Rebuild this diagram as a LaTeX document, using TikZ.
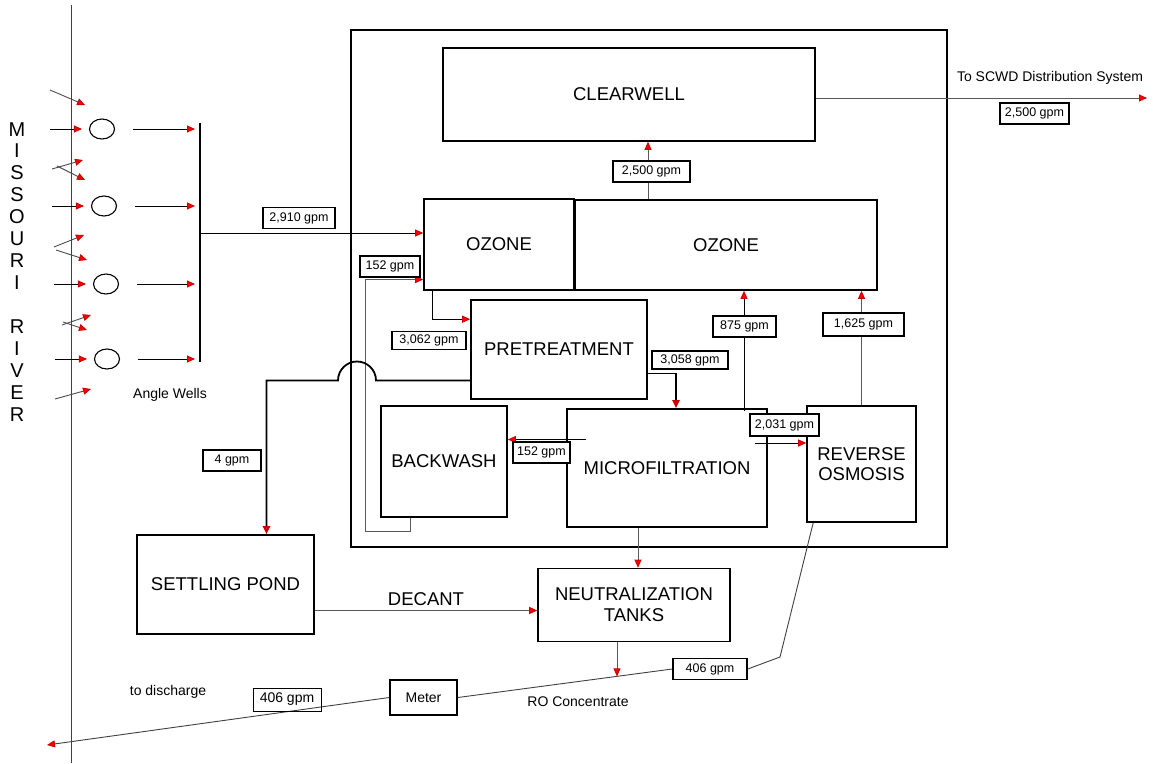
\documentclass[tikz,border=0pt]{standalone}
\usepackage{fontspec}
\setmainfont{Liberation Sans}
\usetikzlibrary{arrows.meta,shapes.geometric,calc}

\tikzset{
  unit/.style={draw,line width=1.6,inner sep=0pt,align=center,font=\fontsize{18.5}{21}\selectfont},
  gpm/.style={draw,line width=1.5,fill=white,inner sep=0pt,minimum height=21,font=\fontsize{12.5}{14}\selectfont},
  well/.style={draw,ellipse,line width=1.1,minimum width=25,minimum height=20,inner sep=0pt},
  flow/.style={line width=0.9,-{Triangle[length=8pt,width=7pt,color=red!80!black,fill=red]}},
  faint/.style={draw=black!65},
  note/.style={font=\fontsize{14}{16}\selectfont}
}

\begin{document}
\begin{tikzpicture}[x=1pt,y=-1pt]
\useasboundingbox (0,0) rectangle (1153,763);
\draw[black!75,line width=1] (71,5) -- (71,763);
\foreach \ch/\yy [count=\k] in {M/130,I/151,S/173,S/195,O/217,U/239,R/261,I/283,R/327,I/349,V/371,E/393,R/415}
  \node[font=\fontsize{20}{20}\selectfont] (river\k) at (17,\yy) {\ch};

\coordinate (bar) at (200,240);
\draw[line width=1.8] (200,123) -- (200,362);
\foreach \i/\x/\y in {1/102/129,2/104/206,3/106/284,4/107/359}{
  \node[well] (w\i) at (\x,\y) {};
  \draw[flow] (\x-52,\y) -- ([xshift=-7]w\i.west);
  \draw[flow] ([xshift=18]w\i.east) -- ([xshift=-5]w\i.east -| bar);
}
\foreach \xa/\ya/\xb/\yb in {50/90/85/105,52/169/83/160,57/166/85/180,54/247/84/235,56/250/87/260,62/325/91/315,63/322/87/330,55/399/91/389}
  \draw[flow,draw=black!70] (\xa,\ya) -- (\xb,\yb);
\node[note] (angle) at (170,395) {Angle Wells};

\node[draw,line width=1.6,minimum width=596,minimum height=517,inner sep=0pt] (plant) at (649,288.5) {};
\node[unit,minimum width=372,minimum height=93] (clearwell) at (629,94.5) {CLEARWELL};
\node[unit,minimum width=150,minimum height=91] (ozoneA) at (499,244.5) {OZONE};
\node[unit,minimum width=302,minimum height=90] (ozoneB) at (726,245) {OZONE};
\node[unit,minimum width=176,minimum height=99] (pretreat) at (559,349.5) {PRETREATMENT};
\node[unit,minimum width=126,minimum height=111] (backwash) at (444,461.5) {BACKWASH};
\node[unit,minimum width=200,minimum height=118] (microfilt) at (667,468) {MICROFILTRATION};
\node[unit,minimum width=109,minimum height=116,font=\fontsize{18.5}{20}\selectfont] (ro) at (861.5,464) {REVERSE\\OSMOSIS};
\node[unit,minimum width=177,minimum height=99] (pond) at (225.5,584.5) {SETTLING POND};
\node[unit,minimum width=192,minimum height=73] (neut) at (634,605) {NEUTRALIZATION\\TANKS};
\node[unit,minimum width=67,minimum height=35,font=\fontsize{14}{16}\selectfont] (meter) at (423.5,697.5) {Meter};
\node[gpm,minimum width=74] (g406a) at (710,669) {406 gpm};

\coordinate (tap) at (200,233);
\draw[flow] (tap) -- (tap -| ozoneA.west);
\coordinate (scwd) at (1147,98);
\draw[flow,faint] (clearwell.east |- scwd) -- (scwd);
\node[note] (scwdtext) at (1050,78) {To SCWD Distribution System};
\draw[flow,faint] ([xshift=19]clearwell.south |- ozoneB.north) -- ([xshift=19]clearwell.south);
\draw[flow] ([xshift=9]ozoneA.south west) |- ([yshift=-20]pretreat.north west);
\draw[flow,line width=1.8] ([yshift=-24]pretreat.east) -| ([xshift=9]microfilt.north);
\draw[flow] ([xshift=77,yshift=-3]microfilt.north) -- ([xshift=77]microfilt.north |- ozoneB.south);
\draw[flow,faint] (ro.north) -- (ro.north |- ozoneB.south);
\draw[flow] ([xshift=-13,yshift=25]microfilt.east) -- ([yshift=25]microfilt.east -| ro.west);
\draw[flow] ([xshift=20,yshift=22]backwash.east -| microfilt.west) -- ([yshift=22]backwash.east);
\coordinate (loop) at (365,531);
\draw[flow,faint] ([xshift=30]backwash.south west) |- (loop) |- ([yshift=-35]ozoneA.west);
\coordinate (hop) at (357,380.5);
\draw[flow,line width=1.8] ([yshift=-31]pretreat.west) -- ([xshift=19]hop) arc[start angle=0,end angle=-180,radius=19] -| ([xshift=41]pond.north);
\draw[flow,faint] ([yshift=-26]pond.east) -- ([yshift=-26]pond.east -| neut.west)
  node[midway,above=1pt,font=\fontsize{18.5}{21}\selectfont] (decant) {DECANT};
\draw[flow,faint] ([xshift=4]neut.north |- microfilt.south) -- ([xshift=4]neut.north);

\coordinate (kink) at (780,657);
\coordinate (outfall) at (47,745);
\draw[line width=0.9,black!75] ([xshift=7]ro.south west) -- (kink) -- (g406a.east);
\draw[line width=0.9,black!75] (g406a.west) -- (meter.east);
\draw[flow,draw=black!75] (meter.west) -- (outfall);
\coordinate (drop) at ($(g406a.west)!0.26!(meter.east)$);
\draw[flow,faint] ([xshift=-17]neut.south) -- ([xshift=-17]neut.south |- drop);

\node[gpm,minimum width=72] (g2910) at (299,218) {2,910 gpm};
\node[gpm,minimum width=77] (g2500a) at (651.5,171.5) {2,500 gpm};
\node[gpm,minimum width=69] (g2500b) at (1034.5,113.5) {2,500 gpm};
\node[gpm,minimum width=60] (g152a) at (390,266.5) {152 gpm};
\node[gpm,minimum width=74,minimum height=18] (g3062) at (429,340.5) {3,062 gpm};
\node[gpm,minimum width=76,minimum height=18] (g3058) at (690,360) {3,058 gpm};
\node[gpm,minimum width=63] (g875) at (744.5,326.5) {875 gpm};
\node[gpm,minimum width=81,minimum height=23] (g1625) at (863.5,324.5) {1,625 gpm};
\node[gpm,minimum width=69,minimum height=22] (g2031) at (784.5,425) {2,031 gpm};
\node[gpm,minimum width=57] (g152b) at (541.5,452.5) {152 gpm};
\node[gpm,minimum width=58] (g4) at (232,460.5) {4 gpm};
\node[draw,line width=1,inner sep=0pt,minimum width=68,minimum height=23,font=\fontsize{14}{16}\selectfont] (g406b) at (287,699.5) {406 gpm};
\node[note] (disch) at (168,692) {to discharge};
\node[note] (roc) at (578,702) {RO Concentrate};
\end{tikzpicture}
\end{document}
